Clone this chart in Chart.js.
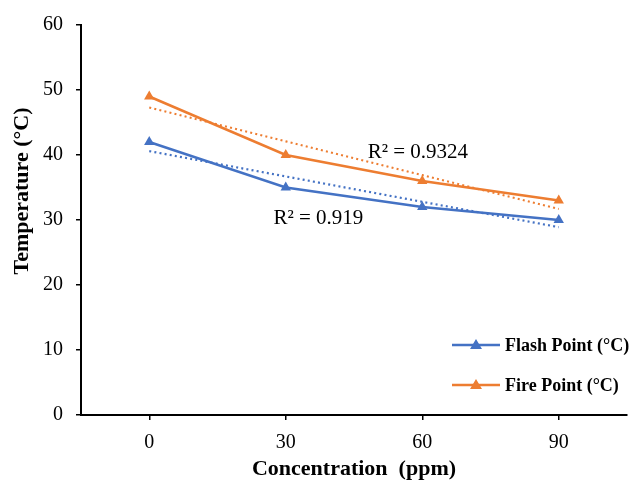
<!DOCTYPE html>
<html>
<head>
<meta charset="utf-8">
<script src="https://cdn.jsdelivr.net/npm/chart.js@4/dist/chart.umd.min.js"></script>
<style>
    body { margin: 0; background: #fff; }
    #wrap { width: 633px; height: 484px; }
</style>
</head>
<body>
<div id="wrap"><canvas id="myChart" width="633" height="484"></canvas></div>
<script>

var concentrations = ["0", "30", "60", "90"];

var flashPoint = [42, 35, 32, 30];
var firePoint  = [49, 40, 36, 33];

// linear trend lines as drawn on the plot
var flashTrend = [40.6, 36.7, 32.8, 28.9];
var fireTrend  = [47.3, 42.1, 36.9, 31.7];

var flashR2 = "R² = 0.919";
var fireR2  = "R² = 0.9324";

var yTitle = "Temperature (°C)";
var xTitle = "Concentration  (ppm)";

var blue = '#4472C4';
var orange = '#ED7D31';
var serif = "'Liberation Serif', 'Times New Roman', serif";

function lineSet(label, data, color) {
    return {
        label: label,
        data: data,
        borderColor: color,
        backgroundColor: color,
        borderWidth: 2.5,
        pointStyle: 'triangle',
        pointRadius: 6,
        pointBorderWidth: 0,
        tension: 0
    };
}

function trendSet(label, data, color) {
    return {
        label: label,
        data: data,
        trend: true,
        borderColor: color,
        borderWidth: 2.2,
        borderDash: [2, 3.2],
        pointRadius: 0,
        fill: false,
        tension: 0
    };
}

// legend sits inside the plot, lower right
var legendBox = {
    id: 'legendBox',
    afterDraw: function(chart) {
        var ctx = chart.ctx;
        var items = chart.data.datasets.filter(function(d) { return !d.trend; });
        ctx.save();
        ctx.font = "bold 18px " + serif;
        ctx.textBaseline = 'middle';
        for (var i = 0; i < items.length; i++) {
            var y = 345 + i * 40;
            ctx.strokeStyle = items[i].borderColor;
            ctx.lineWidth = 2.5;
            ctx.beginPath();
            ctx.moveTo(452, y);
            ctx.lineTo(500, y);
            ctx.stroke();
            ctx.fillStyle = items[i].borderColor;
            ctx.beginPath();
            ctx.moveTo(476, y - 6);
            ctx.lineTo(482, y + 4);
            ctx.lineTo(470, y + 4);
            ctx.closePath();
            ctx.fill();
            ctx.fillStyle = '#000';
            ctx.fillText(items[i].label, 505, y + 1);
        }
        ctx.restore();
    }
};

// R² notes next to the trend lines, plus the vertical axis title
var r2Labels = {
    id: 'r2Labels',
    afterDatasetsDraw: function(chart) {
        var ctx = chart.ctx;
        var xs = chart.scales.x;
        var ys = chart.scales.y;
        ctx.save();
        ctx.font = "21px " + serif;
        ctx.fillStyle = '#000';
        ctx.textBaseline = 'middle';
        ctx.fillText(fireR2, xs.getPixelForValue(1.6), ys.getPixelForValue(40.4));
        ctx.fillText(flashR2, xs.getPixelForValue(0.91), ys.getPixelForValue(30.3));

        ctx.translate(22, 191);
        ctx.rotate(-Math.PI / 2);
        ctx.textAlign = 'center';
        ctx.font = "bold 22px " + serif;
        ctx.fillText(yTitle, 0, 0);
        ctx.restore();
    }
};

const el = document.getElementById('myChart');

const data = {
    labels: concentrations,
    datasets: [
        lineSet("Flash Point (°C)", flashPoint, blue),
        lineSet("Fire Point (°C)", firePoint, orange),
        trendSet("Linear (Flash Point (°C))", flashTrend, blue),
        trendSet("Linear (Fire Point (°C))", fireTrend, orange)
    ]
};

const config = {
    type: 'line',
    data: data,
    options: {
        responsive: false,
        animation: false,
        layout: { padding: { top: 25, right: 3, left: 0, bottom: 0 } },
        plugins: {
            legend: { display: false },
            tooltip: { enabled: false }
        },
        scales: {
            x: {
                offset: true,
                afterFit: function(s) { s.height = 69; },
                grid: {
                    offset: false,
                    drawOnChartArea: false,
                    drawTicks: true,
                    tickLength: 5,
                    color: '#000',
                    lineWidth: 1.5
                },
                border: { color: '#000', width: 2 },
                ticks: { color: '#000', padding: 11, font: { family: serif, size: 20 } },
                title: {
                    display: true,
                    text: xTitle,
                    color: '#000',
                    font: { family: serif, size: 22, weight: 'bold' },
                    padding: { top: 0, bottom: 1 }
                }
            },
            y: {
                min: 0,
                max: 60,
                afterFit: function(s) { s.width = 81; },
                grid: {
                    drawOnChartArea: false,
                    drawTicks: true,
                    tickLength: 5,
                    color: '#000',
                    lineWidth: 1.5
                },
                border: { color: '#000', width: 2 },
                ticks: { stepSize: 10, color: '#000', padding: 13, font: { family: serif, size: 20 } }
            }
        }
    },
    plugins: [legendBox, r2Labels]
};

new Chart(
    el,
    config
);
</script>
</body>
</html>
